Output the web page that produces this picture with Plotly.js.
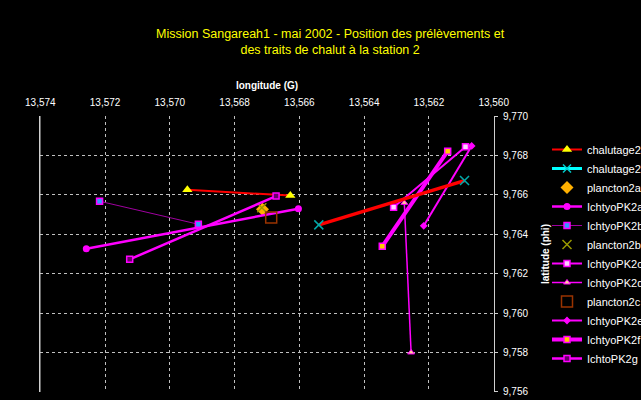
<!DOCTYPE html>
<html>
<head>
<meta charset="utf-8">
<script src="https://cdn.plot.ly/plotly-3.0.1.min.js"></script>
<style>
html,body{margin:0;padding:0;background:#000;}
#chart{width:641px;height:400px;}
</style>
</head>
<body>
<div id="chart"></div>
<script>
// Data (longitude G, latitude phi)
const chalutage2aLon = [13.56946, 13.56628];
const chalutage2aLat = [9.76626, 9.76597];
const chalutage2bLon = [13.56540, 13.56090];
const chalutage2bLat = [9.76448, 9.76673];
const plancton2aLon = [13.56714];
const plancton2aLat = [9.76527];
const ichtyoPK2aLon = [13.57258, 13.56603];
const ichtyoPK2aLat = [9.76327, 9.76530];
const ichtyoPK2bLon = [13.57217, 13.56912];
const ichtyoPK2bLat = [9.76568, 9.76451];
const plancton2bLon = [13.56716];
const plancton2bLat = [9.76535];
const ichtyoPK2cLon = [13.56309, 13.56087];
const ichtyoPK2cLat = [9.76538, 9.76845];
const ichtyoPK2dLon = [13.56276, 13.56255];
const ichtyoPK2dLat = [9.76560, 9.75800];
const plancton2cLon = [13.56687];
const plancton2cLat = [9.76485];
const ichtyoPK2eLon = [13.56216, 13.56068];
const ichtyoPK2eLat = [9.76443, 9.76849];
const ichtyoPK2fLon = [13.56344, 13.56142];
const ichtyoPK2fLat = [9.76339, 9.76822];
const ichtoPK2gLon = [13.57124, 13.56672];
const ichtoPK2gLat = [9.76273, 9.76594];

const lonTicks = [13.574, 13.572, 13.570, 13.568, 13.566, 13.564, 13.562, 13.560];
const latTicks = [9.756, 9.758, 9.760, 9.762, 9.764, 9.766, 9.768, 9.770];

const MAG = '#ff00ff';

const traces = [
  {name:'chalutage2a', x:chalutage2aLon, y:chalutage2aLat, mode:'lines+markers',
   line:{color:'#ff0000', width:2},
   marker:{symbol:'triangle-up', size:9, color:'#ffff00'}},
  // legend entry for chalutage2b as shown in the reference legend
  {name:'chalutage2b', x:[null], y:[null], mode:'lines+markers', legendgroup:'c2b',
   line:{color:'#00ffff', width:3},
   marker:{symbol:'x-thin-open', size:8, color:'#00cccc', line:{width:1.5, color:'#00cccc'}}},
  {name:'plancton2a', x:plancton2aLon, y:plancton2aLat, mode:'markers',
   marker:{symbol:'diamond', size:10, color:'#ffb000'}},
  {name:'IchtyoPK2a', x:ichtyoPK2aLon, y:ichtyoPK2aLat, mode:'lines+markers',
   line:{color:MAG, width:2.5},
   marker:{symbol:'circle', size:7, color:MAG}},
  {name:'IchtyoPK2b', x:ichtyoPK2bLon, y:ichtyoPK2bLat, mode:'lines+markers',
   line:{color:'#a000a0', width:1},
   marker:{symbol:'square', size:6, color:'#3399ff', line:{color:MAG, width:1.5}}},
  {name:'plancton2b', x:plancton2bLon, y:plancton2bLat, mode:'markers',
   marker:{symbol:'x-thin-open', size:9, color:'#999900', line:{width:1.5, color:'#aaaa00'}}},
  {name:'IchtyoPK2c', x:ichtyoPK2cLon, y:ichtyoPK2cLat, mode:'lines+markers',
   line:{color:MAG, width:2},
   marker:{symbol:'square', size:6, color:'#ffd0ff', line:{color:MAG, width:1.5}}},
  {name:'IchtyoPK2d', x:ichtyoPK2dLon, y:ichtyoPK2dLat, mode:'lines+markers',
   line:{color:MAG, width:1.5},
   marker:{symbol:'triangle-up', size:6, color:'#ffcc99', line:{color:MAG, width:1}}},
  {name:'plancton2c', x:plancton2cLon, y:plancton2cLat, mode:'markers',
   marker:{symbol:'square-open', size:11, color:'#993300', line:{width:1.5, color:'#993300'}}},
  {name:'IchtyoPK2e', x:ichtyoPK2eLon, y:ichtyoPK2eLat, mode:'lines+markers',
   line:{color:MAG, width:2},
   marker:{symbol:'diamond', size:6, color:MAG}},
  {name:'IchtyoPK2f', x:ichtyoPK2fLon, y:ichtyoPK2fLat, mode:'lines+markers',
   line:{color:MAG, width:4},
   marker:{symbol:'square', size:6, color:'#ffcc00', line:{color:MAG, width:1.5}}},
  {name:'IchtoPK2g', x:ichtoPK2gLon, y:ichtoPK2gLat, mode:'lines+markers',
   line:{color:MAG, width:2.5},
   marker:{symbol:'square', size:6, color:'#660066', line:{color:MAG, width:1.5}}},
  // chalutage2b as drawn in the plot area
  {name:'chalutage2b', x:chalutage2bLon, y:chalutage2bLat, mode:'lines+markers', legendgroup:'c2b',
   showlegend:false,
   line:{color:'#ff0000', width:3.5},
   marker:{symbol:'x-thin-open', size:9, color:'#00aaaa', line:{width:1.5, color:'#00aaaa'}}}
];

const PLOT_L = 40, PLOT_R = 147, PLOT_T = 116, PLOT_B = 8, W = 641, H = 400;

const layout = {
  width:W, height:H,
  paper_bgcolor:'#000000', plot_bgcolor:'#000000',
  separators:', ',
  font:{family:'Liberation Sans, Arial, sans-serif', color:'#ffffff', size:10},
  margin:{l:PLOT_L, r:PLOT_R, t:PLOT_T, b:PLOT_B, autoexpand:false},
  title:{text:'Mission Sangareah1 - mai 2002 - Position des prélèvements et<br>des traits de chalut à la station 2',
         font:{family:'Liberation Sans, Arial, sans-serif', size:12.5, color:'#ffff00'},
         x:0.515, xref:'container', xanchor:'center', y:1 - 38/H, yref:'container', yanchor:'middle'},
  xaxis:{side:'top', range:[13.57401, 13.55999], tickvals:lonTicks, tickformat:'.3f',
         showgrid:true, gridcolor:'#c0c0c0', griddash:'3px,3px', gridwidth:1,
         zeroline:false, showline:false, ticks:'', ticklabelstandoff:7,
         tickfont:{size:10, color:'#ffffff'},
         title:{text:'<b>longitude (G)</b>', font:{size:10, color:'#ffffff'}, standoff:5}},
  yaxis:{side:'right', range:[9.75599, 9.77001], tickvals:latTicks, tickformat:'.3f',
         showgrid:true, gridcolor:'#c0c0c0', griddash:'3px,3px', gridwidth:1,
         zeroline:false, showline:true, mirror:true, linecolor:'#d0d0d0', linewidth:1,
         ticks:'outside', ticklen:3, tickcolor:'#d0d0d0', ticklabelstandoff:3,
         tickfont:{size:10, color:'#ffffff'},
         title:{text:'<b>latitude (phi)</b>', font:{size:10, color:'#ffffff'}, standoff:14}},
  shapes:[
    {type:'line', xref:'paper', yref:'paper', x0:0, x1:0, y0:0, y1:1,
     line:{color:'#d0d0d0', width:1}, layer:'above'}
  ],
  legend:{xref:'paper', yanchor:'middle', font:{size:11, color:'#ffffff'},
          bgcolor:'rgba(0,0,0,0)', borderwidth:0, itemwidth:30, tracegroupgap:0},
  showlegend:true
};
// place legend using paper fraction computed from pixels
layout.legend.x = (547 - PLOT_L) / (W - PLOT_L - PLOT_R);
layout.legend.y = 1 - (254 - PLOT_T) / (H - PLOT_T - PLOT_B);

Plotly.newPlot('chart', traces, layout, {displayModeBar:false, staticPlot:true});
</script>
</body>
</html>
